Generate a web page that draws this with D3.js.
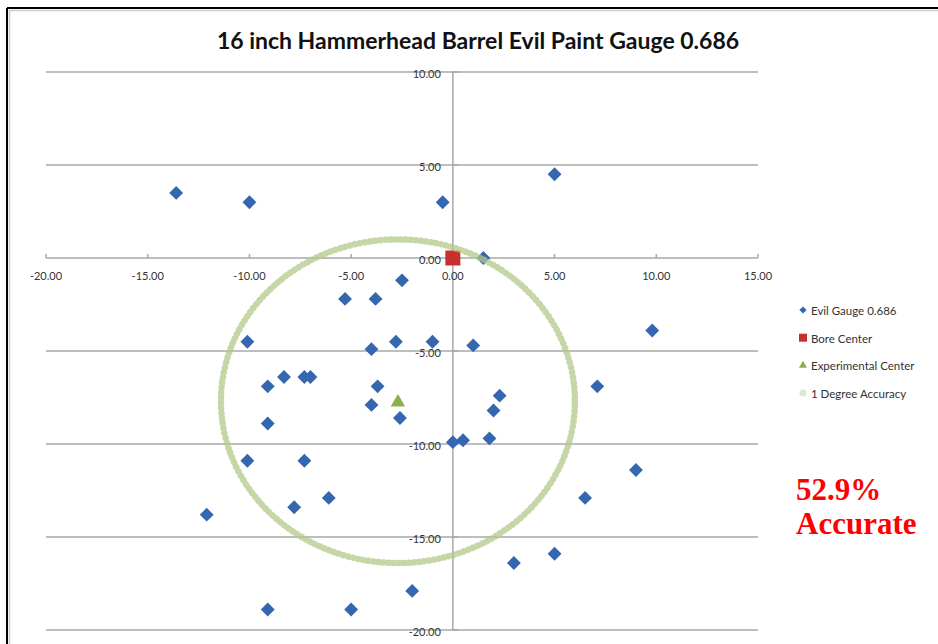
<!DOCTYPE html>
<html>
<head>
<meta charset="utf-8">
<script src="https://cdn.jsdelivr.net/npm/d3@7"></script>
<style>
  body { margin: 0; background: #fff; }
  svg { display: block; }
  .tick-label { font-family: Lato, "Open Sans", sans-serif; font-size: 11px; fill: #333; }
  .legend-label { font-family: Lato, "Open Sans", sans-serif; font-size: 11.5px; fill: #333; }
</style>
</head>
<body>
<div id="chart"></div>
<script>
// Datos
const gaugeX = [-13.6, -10, -0.5, 5, 1.5, -2.5, -5.3, -3.8, 9.8, -10.1, -4.0, -2.8, -1.0, 1.0,
  -8.3, -9.1, -7.3, -7.0, -3.7, -4.0, -2.6, -9.1, 2.3, 2.0, 0.0, 0.5, 1.8, -10.1, -7.3, -6.1,
  -7.8, -12.1, 7.1, 9.0, 6.5, 3.0, 5.0, -2.0, -9.1, -5.0];
const gaugeY = [3.5, 3, 3, 4.5, 0, -1.2, -2.2, -2.2, -3.9, -4.5, -4.9, -4.5, -4.5, -4.7,
  -6.4, -6.9, -6.4, -6.4, -6.9, -7.9, -8.6, -8.9, -7.4, -8.2, -9.9, -9.8, -9.7, -10.9, -10.9, -12.9,
  -13.4, -13.8, -6.9, -11.4, -12.9, -16.4, -15.9, -17.9, -18.9, -18.9];
const boreCenter = [0, 0];
const expCenter = [-2.7, -7.7];
const accuracyRadius = 8.7;

const xTicks = [-20, -15, -10, -5, 0, 5, 10, 15];
const yTicks = [10, 5, 0, -5, -10, -15, -20];
const legendNames = ['Evil Gauge 0.686', 'Bore Center', 'Experimental Center', '1 Degree Accuracy'];

const W = 938, H = 644;
const BLUE = '#3567b1', RED = '#c6312e', GREEN = '#8db04f', CIRCLE = '#b2ca88';

let svg = d3.select('#chart').append('svg')
  .attr('width', W).attr('height', H);

//Marco
svg.append('line').attr('x1', 7).attr('x2', W).attr('y1', 8).attr('y2', 8)
  .attr('stroke', '#000').attr('stroke-width', 2);
svg.append('line').attr('x1', 7).attr('x2', 7).attr('y1', 8).attr('y2', H)
  .attr('stroke', '#000').attr('stroke-width', 2);
svg.append('line').attr('x1', 9).attr('x2', W).attr('y1', 10.5).attr('y2', 10.5)
  .attr('stroke', '#ccc').attr('stroke-width', 1.5);
svg.append('line').attr('x1', 9.5).attr('x2', 9.5).attr('y1', 10).attr('y2', H)
  .attr('stroke', '#ccc').attr('stroke-width', 1.5);

//Título
svg.append('text')
  .attr('x', 478).attr('y', 49)
  .attr('text-anchor', 'middle')
  .style('font-family', 'Lato, "Open Sans", sans-serif')
  .style('font-weight', 'bold')
  .style('font-size', '23px')
  .style('fill', '#111')
  .text('16 inch Hammerhead Barrel Evil Paint Gauge 0.686');

let x = d3.scaleLinear().domain([-20, 15]).range([46, 758]);
let y = d3.scaleLinear().domain([-20, 10]).range([630, 72]);

//Rejilla horizontal
svg.append('g').selectAll('line')
  .data(yTicks)
  .enter().append('line')
  .attr('x1', x(-20)).attr('x2', x(15))
  .attr('y1', d => y(d)).attr('y2', d => y(d))
  .attr('stroke', '#a8a8a8').attr('stroke-width', 1.5);

//Eje vertical en x = 0
svg.append('line')
  .attr('x1', x(0)).attr('x2', x(0))
  .attr('y1', y(10)).attr('y2', y(-20))
  .attr('stroke', '#a8a8a8').attr('stroke-width', 1.5);

//Marcas del eje x
svg.append('g').selectAll('line')
  .data(xTicks)
  .enter().append('line')
  .attr('x1', d => x(d)).attr('x2', d => x(d))
  .attr('y1', y(0) - 4).attr('y2', y(0))
  .attr('stroke', '#a8a8a8').attr('stroke-width', 1.5);

//Marcas del eje y
svg.append('g').selectAll('line')
  .data(yTicks)
  .enter().append('line')
  .attr('x1', x(0)).attr('x2', x(0) + 5)
  .attr('y1', d => y(d)).attr('y2', d => y(d))
  .attr('stroke', '#a8a8a8').attr('stroke-width', 1.5);

svg.append('g').selectAll('text')
  .data(xTicks)
  .enter().append('text')
  .attr('class', 'tick-label')
  .attr('x', d => x(d)).attr('y', y(0) + 22)
  .attr('text-anchor', 'middle')
  .text(d => d.toFixed(2));

svg.append('g').selectAll('text')
  .data(yTicks)
  .enter().append('text')
  .attr('class', 'tick-label')
  .attr('x', x(0) - 12).attr('y', d => y(d) + 6)
  .attr('text-anchor', 'end')
  .text(d => d.toFixed(2));

//Puntos
let diamond = d3.symbol(d3.symbolSquare, 96);
svg.append('g').selectAll('path')
  .data(d3.zip(gaugeX, gaugeY))
  .enter().append('path')
  .attr('d', diamond)
  .attr('transform', d => 'translate(' + x(d[0]) + ',' + y(d[1]) + ') rotate(45)')
  .attr('fill', BLUE);

svg.append('rect')
  .attr('x', x(boreCenter[0]) - 7.5).attr('y', y(boreCenter[1]) - 7.5)
  .attr('width', 15).attr('height', 15)
  .attr('fill', RED);

svg.append('path')
  .attr('d', d3.symbol(d3.symbolTriangle, 90)())
  .attr('transform', 'translate(' + x(expCenter[0]) + ',' + (y(expCenter[1]) + 1) + ')')
  .attr('fill', GREEN);

//Círculo de precisión
svg.append('ellipse')
  .attr('cx', x(expCenter[0])).attr('cy', y(expCenter[1]))
  .attr('rx', x(accuracyRadius) - x(0))
  .attr('ry', y(0) - y(accuracyRadius))
  .attr('fill', 'none')
  .attr('stroke', CIRCLE)
  .attr('stroke-opacity', 0.75)
  .attr('stroke-width', 6.5)
  .attr('stroke-linecap', 'round')
  .attr('stroke-dasharray', '0.5 4.6');

//Leyenda
let legend = svg.append('g').selectAll('g')
  .data(legendNames)
  .enter().append('g')
  .attr('transform', (d, i) => 'translate(803,' + (311 + i * 27.7) + ')');

legend.append('text')
  .attr('class', 'legend-label')
  .attr('x', 8).attr('y', 4)
  .text(d => d);

legend.filter((d, i) => i === 0).append('path')
  .attr('d', d3.symbol(d3.symbolSquare, 26)).attr('transform', 'translate(0,-1) rotate(45)').attr('fill', BLUE);
legend.filter((d, i) => i === 1).append('rect')
  .attr('x', -4).attr('y', -5).attr('width', 8).attr('height', 8).attr('fill', RED);
legend.filter((d, i) => i === 2).append('path')
  .attr('d', d3.symbol(d3.symbolTriangle, 28)).attr('transform', 'translate(0,-1)').attr('fill', GREEN);
legend.filter((d, i) => i === 3).append('circle')
  .attr('r', 3.5).attr('cy', -1).attr('fill', '#dde6cf');

//Texto de precisión
svg.append('g').selectAll('text')
  .data(['52.9%', 'Accurate'])
  .enter().append('text')
  .attr('x', 796).attr('y', (d, i) => 500 + i * 34)
  .style('font-family', '"Liberation Serif", "Times New Roman", serif')
  .style('font-weight', 'bold')
  .style('font-size', '31px')
  .style('fill', '#ff0000')
  .text(d => d);
</script>
</body>
</html>
